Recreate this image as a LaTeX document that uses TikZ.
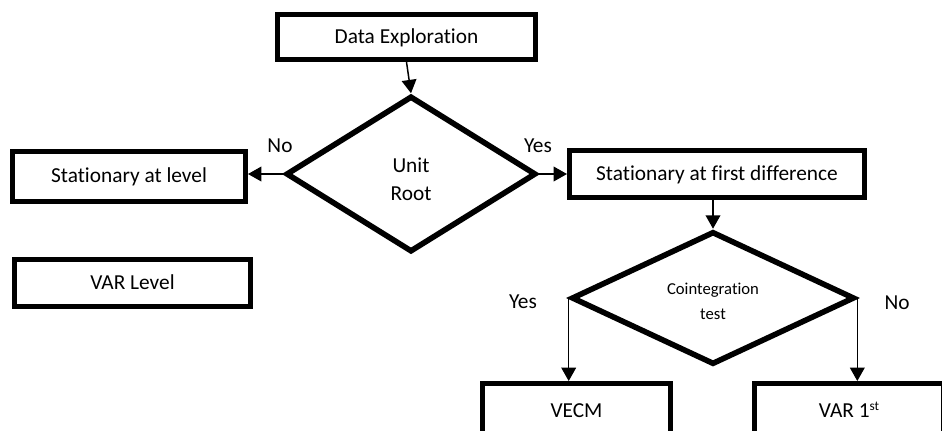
\documentclass[tikz,border=0pt]{standalone}
\usepackage{fontspec}
\setmainfont{Carlito}[Ligatures=NoCommon]
\usetikzlibrary{shapes.geometric,arrows.meta}

\tikzset{
  label text/.style={font=\fontsize{16}{19}\selectfont, inner sep=0pt},
  stepbox/.style={draw, line width=3.75pt, rectangle, inner sep=0pt,
    font=\fontsize{16}{19}\selectfont, fill=white,
    text height=12.5pt, text depth=2.5pt},
  decision/.style={draw, line width=4.2pt, diamond, inner sep=0pt,
    line join=miter},
  decision text/.style={align=center, inner sep=0pt},
  flow/.style={line width=1.1pt, -{Triangle[width=11pt,length=10pt]}},
}

\begin{document}
\begin{tikzpicture}[x=0.75pt, y=-0.75pt]
  \clip (0,0) rectangle (942,430);
  \useasboundingbox (0,0) rectangle (942,430);

  % process boxes
  \node[stepbox, minimum width=193.5pt, minimum height=33.75pt] (data) at (406.5,37) {Data Exploration};
  \node[stepbox, minimum width=174.75pt, minimum height=37.5pt] (level) at (129,176) {Stationary at level};
  \node[stepbox, minimum width=221.25pt, minimum height=35.25pt] (first) at (717,174) {Stationary at first difference};
  \node[stepbox, minimum width=177pt, minimum height=35.25pt] (varlevel) at (132.5,283) {VAR Level};
  \node[stepbox, minimum width=141pt, minimum height=41.25pt] (vecm) at (576.5,411) {VECM};
  \node[stepbox, minimum width=141.75pt, minimum height=41.25pt] (varfirst) at (849,411) {VAR 1\raisebox{0.35em}{\fontsize{10}{12}\selectfont st}};

  % decisions
  \node[decision, minimum width=187.5pt, minimum height=117pt] (unit) at (411,174) {};
  \node[decision text, font=\fontsize{16}{21}\selectfont] (unittext) at (411,179) {Unit\\Root};
  \node[decision, minimum width=212.25pt, minimum height=99.75pt] (coint) at (713,298) {};
  \node[decision text, font=\fontsize{12.5}{18.75}\selectfont] (cointtext) at (713,301) {Cointegration\\test};

  % connectors
  \draw[flow] (data.south) -- (unit.north);
  \draw[flow] (unit.west) -- (unit.west -| level.east);
  \draw[flow] (unit.east) -- (unit.east -| first.west);
  \draw[flow] (first.south -| coint.north) -- (coint.north);
  \draw[flow] (coint.west) -- (coint.west |- vecm.north);
  \draw[flow] (coint.east) -- (coint.east |- varfirst.north);

  % branch labels
  \node[label text] (no1) at (280,146) {No};
  \node[label text] (yes1) at (538,146) {Yes};
  \node[label text] (yes2) at (523,302) {Yes};
  \node[label text] (no2) at (897,303) {No};
\end{tikzpicture}
\end{document}
